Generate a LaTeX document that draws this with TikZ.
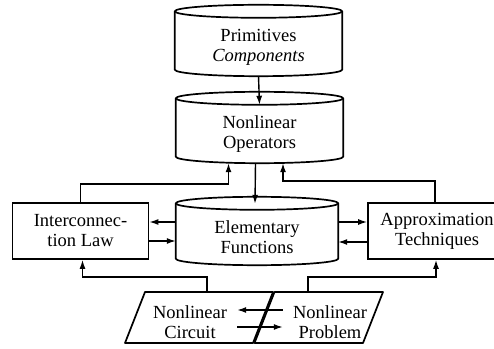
\documentclass[tikz,border=0pt]{standalone}
\usepackage{fontspec}
\setmainfont{Liberation Serif}
\usetikzlibrary{shapes.geometric, arrows.meta, positioning, calc}

\begin{document}
\begin{tikzpicture}[
    x=1pt, y=1pt,
    font=\rmfamily\fontsize{18.5}{20}\selectfont,
    drum/.style={rectangle, minimum width=167pt, minimum height=58pt, align=center, inner sep=0pt},
    rim/.style={line width=1.7pt, line join=round},
    box/.style={draw, rectangle, line width=1.7pt, minimum width=136pt, minimum height=56pt, align=center},
    caption/.style={align=center, inner sep=10pt},
    arrow/.style={line width=1.4pt, -{Latex[length=9pt, width=6pt]}},
    wire/.style={line width=1.4pt}
]
    \useasboundingbox (0,0) rectangle (494,348);

    % cylinders
    \node[drum] (prim) at (258.5,301) {Primitives\\\textit{Components}};
    \node[drum] (oper) at (259.5,214) {Nonlinear\\Operators};
    \node[drum, minimum width=162pt, minimum height=55pt] (elem) at (257,110.5) {Elementary\\Functions};
    \foreach \cyl in {prim, oper, elem} {
        \draw[rim] let \p1 = ($(\cyl.north east)-(\cyl.north west)$) in
            ($(\cyl.north)+(0,6.5)$) ellipse [x radius=0.5*\x1, y radius=6.5pt];
        \draw[rim] let \p1 = ($(\cyl.north east)-(\cyl.north west)$) in
            ($(\cyl.north west)+(0,6.5)$) -- ($(\cyl.south west)+(0,6.5)$)
            arc [start angle=180, end angle=360, x radius=0.5*\x1, y radius=6.5pt]
            -- ($(\cyl.north east)+(0,6.5)$);
    }

    % side boxes
    \node[box] (inter) at (80.5,117) {Interconnec-\\tion Law};
    \node[box, minimum width=138pt] (approx) at (437,117) {Approximation\\Techniques};

    % bottom parallelograms
    \draw[rim] (125,5) -- (145,56) -- (273,56) -- (253,5) -- cycle;
    \draw[rim] (254.5,5) -- (274.5,56) -- (383,56) -- (363,5) -- cycle;
    \coordinate (ncfeed) at (207,56);
    \coordinate (npfeed) at (308,56);
    \node[caption] (nc) at (190,26) {Nonlinear\\Circuit};
    \node[caption] (np) at (330,26) {Nonlinear\\Problem};

    \draw[arrow] (prim.south) -- (oper.north);
    \draw[arrow] ([xshift=-4pt]oper.south) -- ([xshift=-2pt,yshift=6pt]elem.north);
    \draw[arrow] (inter.north) -- ++(0,18) -| ([xshift=-31pt]oper.south);
    \draw[arrow] ([xshift=-2pt]approx.north) -- ++(0,21) -| ([xshift=23.5pt]oper.south);

    \draw[arrow] ([yshift=15.5pt]elem.west) -- ([yshift=9pt]inter.east);
    \draw[arrow] ([yshift=-10pt]inter.east) -- ([yshift=-3.5pt]elem.west);
    \draw[arrow] ([yshift=15.5pt]elem.east) -- ([yshift=9pt]approx.west);
    \draw[arrow] ([yshift=-11pt]approx.west) -- ([yshift=-4.5pt]elem.east);

    \draw[arrow] (ncfeed) -- ++(0,15) -| ([xshift=2pt]inter.south);
    \draw[arrow] (npfeed) -- ++(0,15) -| ([xshift=-1pt]approx.south);

    \draw[arrow] ([yshift=12pt]np.west) -- ([yshift=12pt]nc.east);
    \draw[arrow] ([yshift=-5pt]nc.east) -- ([yshift=-5pt]np.west);
\end{tikzpicture}
\end{document}
